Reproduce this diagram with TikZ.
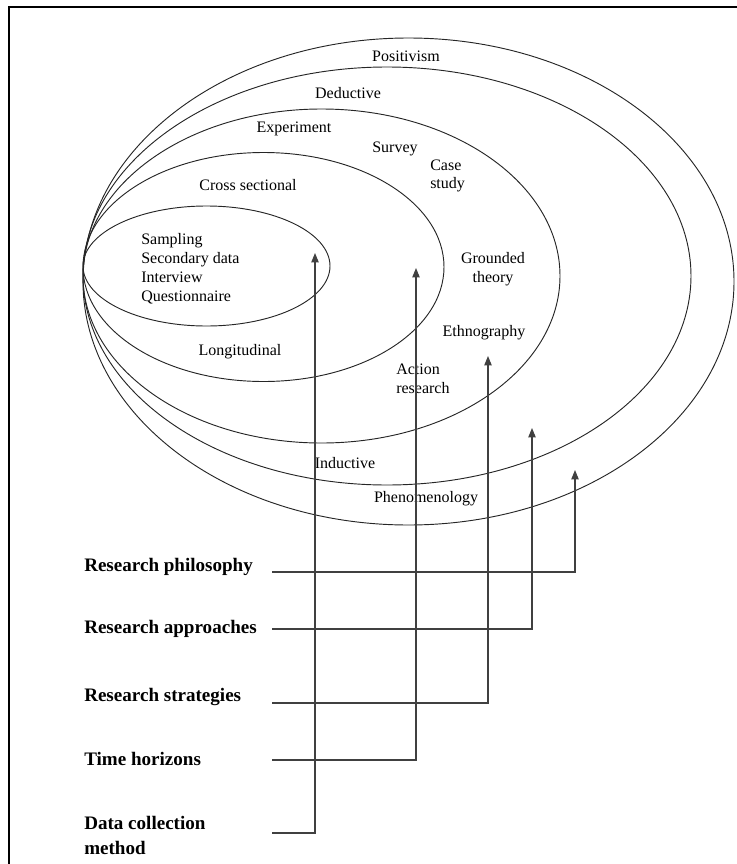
\documentclass[tikz,border=0pt]{standalone}
\usepackage{fontspec}
\setmainfont{Liberation Serif}
\usetikzlibrary{arrows.meta}

\begin{document}
\begin{tikzpicture}[x=0.75pt,y=-0.75pt,
  ring/.style={black!85,line width=0.7pt},
  layer/.style={inner sep=0pt,font=\fontsize{12}{14}\selectfont},
  head/.style={inner sep=0pt,anchor=west,align=left,font=\fontsize{14.3}{18.5}\selectfont\bfseries},
  feed/.style={black!75,line width=0.8pt,-{Triangle[length=7pt,width=5.5pt]}}]
\useasboundingbox (0,0) rectangle (737,864);
\draw[line width=1.5pt] (737,7) -- (9,7) -- (9,864);
\draw[ring] (408.5,281.5) ellipse [x radius=325.5, y radius=243.5];
\draw[ring] (387,276) ellipse [x radius=304, y radius=209];
\draw[ring] (321.5,276) ellipse [x radius=238.5, y radius=167];
\draw[ring] (263.5,267) ellipse [x radius=180.5, y radius=114.5];
\draw[ring] (206.5,266) ellipse [x radius=123.5, y radius=60];
\node[layer] (posit) at (406,56) {Positivism};
\node[layer] (deduct) at (348,93) {Deductive};
\node[layer] (exper) at (294,129) {Experiment};
\node[layer] (survey) at (395,149) {Survey};
\node[layer,anchor=west,align=left] (case) at (430,176) {Case\\study};
\node[layer] (cross) at (248,185) {Cross sectional};
\node[layer,align=center] (ground) at (493,269) {Grounded\\theory};
\node[layer,anchor=west,align=left,font=\fontsize{12}{14.3}\selectfont] (methods) at (141,268.5)
  {Sampling\\Secondary data\\Interview\\Questionnaire};
\node[layer] (ethno) at (484,333) {Ethnography};
\node[layer] (longit) at (240,352) {Longitudinal};
\node[layer,anchor=west,align=left] (action) at (396,379) {Action\\research};
\node[layer] (induct) at (345,463) {Inductive};
\node[layer] (pheno) at (426,499) {Phenomenology};
\node[head] (phil) at (84,567) {Research philosophy};
\node[head] (appr) at (84,629) {Research approaches};
\node[head] (strat) at (84,697) {Research strategies};
\node[head] (time) at (84,759) {Time horizons};
\node[head] (data) at (84,835.5) {Data collection\\method};
\coordinate (phil-in) at (272,572);
\coordinate (appr-in) at (272,629);
\coordinate (strat-in) at (272,703);
\coordinate (time-in) at (272,760);
\coordinate (data-in) at (272,833);
\coordinate (phil-tip) at (575,470);
\coordinate (appr-tip) at (532,428);
\coordinate (strat-tip) at (488,356);
\coordinate (time-tip) at (416,268);
\coordinate (data-tip) at (315,253);
\draw[feed] (phil-in) -| (phil-tip);
\draw[feed] (appr-in) -| (appr-tip);
\draw[feed] (strat-in) -| (strat-tip);
\draw[feed] (time-in) -| (time-tip);
\draw[feed] (data-in) -| (data-tip);
\end{tikzpicture}
\end{document}
